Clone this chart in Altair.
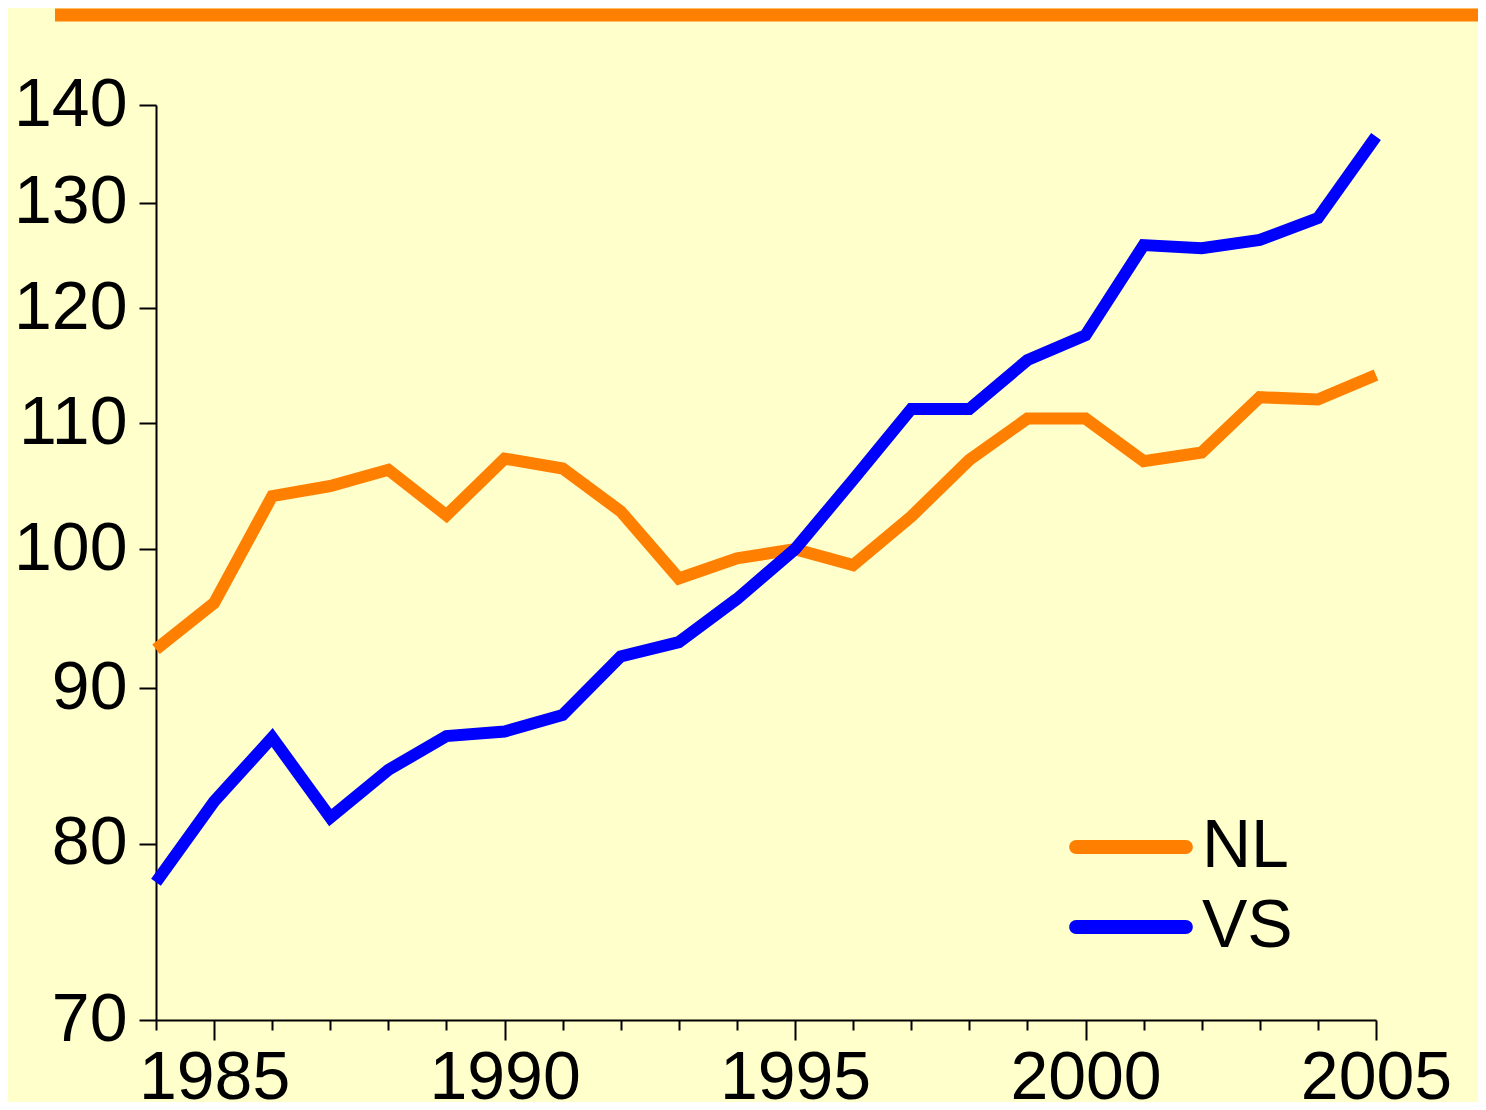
import altair as alt
import pandas as pd

years = list(range(1984, 2006))
nl = [92.7, 96.0, 104.1, 104.9, 106.2, 102.6, 107.1, 106.3, 102.9, 97.8, 99.3,
      100.0, 98.8, 102.5, 107.0, 110.4, 110.4, 106.9, 107.6, 112.2, 112.0, 114.1]
vs = [77.7, 82.6, 86.7, 81.6, 84.6, 86.8, 87.1, 88.2, 92.2, 93.2, 96.3,
      100.0, 105.4, 111.2, 111.2, 115.4, 117.6, 125.9, 125.6, 126.4, 128.5, 136.7]
series = ["NL", "VS"]
colors = ["#FF8000", "#0000FF"]
y_ticks = [70, 80, 90, 100, 110, 120, 130, 140]
legend_y = [680, 760]

FONT = "Liberation Sans"
CAPSULE = ("M-0.887,-0.113 L0.887,-0.113 A0.113,0.113 0 0 1 0.887,0.113 "
           "L-0.887,0.113 A0.113,0.113 0 0 1 -0.887,-0.113 Z")

x_enc = alt.X("year:Q",
              scale=alt.Scale(domain=[1984, 2005], nice=False, zero=False),
              axis=alt.Axis(values=years, title=None, grid=False,
                            labelExpr="datum.value % 5 === 0 ? datum.value : ''",
                            tickSize={"condition": {"test": "datum.value % 5 === 0", "value": 20}, "value": 10},
                            labelPadding=4, labelFontSize=68, labelFont=FONT,
                            labelColor="black", labelFlush=False, labelOverlap=False,
                            domainColor="black", domainWidth=2, tickColor="black", tickWidth=2))
y_enc = alt.Y("value:Q",
              scale=alt.Scale(type="log", domain=[70, 140], nice=False, zero=False),
              axis=alt.Axis(values=y_ticks, title=None, grid=False, tickSize=17,
                            labelPadding=12, labelFontSize=68, labelFont=FONT,
                            labelColor="black", labelOverlap=False,
                            domainColor="black", domainWidth=2, tickColor="black", tickWidth=2))

layers = []
for name, vals, col, ly in zip(series, [nl, vs], colors, legend_y):
    d = pd.DataFrame({"year": years, "value": vals, "series": [name] * len(years)})
    layers.append(
        alt.Chart(d).mark_line(strokeWidth=12, strokeJoin="miter").encode(
            x=x_enc, y=y_enc,
            color=alt.Color("series:N",
                            scale=alt.Scale(domain=[name], range=[col]),
                            legend=alt.Legend(orient="none", legendX=913, legendY=ly,
                                              title=None, symbolType=CAPSULE,
                                              symbolSize=15276, symbolStrokeWidth=0,
                                              symbolFillColor=col,
                                              labelFontSize=68, labelFont=FONT,
                                              labelColor="black", labelOffset=9)),
        )
    )

topline = alt.Chart(pd.DataFrame({"k": [0]})).mark_rule(
    color="#FF8000", strokeWidth=13
).encode(x=alt.value(-101), x2=alt.value(1330), y=alt.value(-90))

chart = alt.layer(topline, *layers).resolve_scale(color="independent").properties(
    width=1220, height=915,
    background="#FFFFCC",
    padding={"left": 148, "top": 97, "right": 102, "bottom": 82},
    autosize=alt.AutoSizeParams(type="none"),
).configure_view(stroke=None)

chart.save("out.html", embed_options={"renderer": "svg", "actions": False})
